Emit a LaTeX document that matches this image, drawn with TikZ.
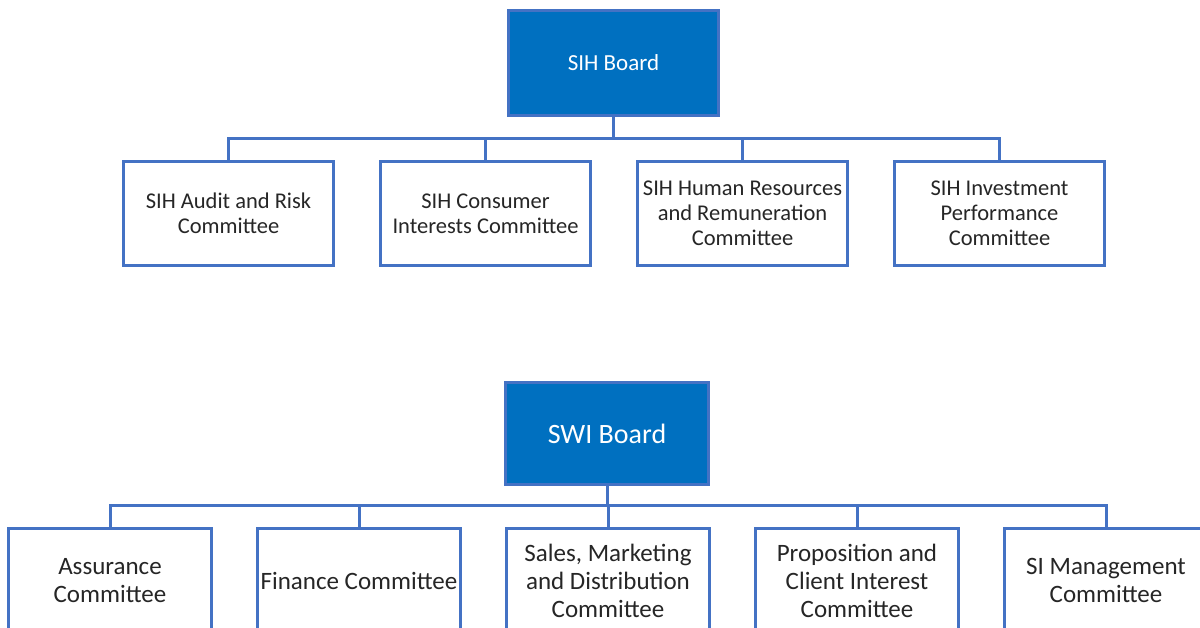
\documentclass[tikz,border=0pt]{standalone}
\usepackage{fontspec}
\setmainfont{Carlito}
\usetikzlibrary{calc}
\definecolor{boardblue}{HTML}{0070C0}
\definecolor{edgeblue}{HTML}{4472C4}
\definecolor{inkgrey}{HTML}{262626}

\begin{document}
\begin{tikzpicture}[x=1pt, y=-1pt, outer sep=0pt, line width=3pt,
  board/.style={draw=edgeblue, fill=boardblue, text=white, align=center},
  cttee/.style={draw=edgeblue, fill=white, text=inkgrey, align=center,
    minimum width=210pt, minimum height=104pt, inner sep=2pt,
    font=\fontsize{22.5}{25}\selectfont},
  wide/.style={cttee, minimum width=203pt, font=\fontsize{25}{28}\selectfont},
  link/.style={draw=edgeblue, line width=3pt}]

\clip (0,0) rectangle (1200,628);
\fill[white] (0,0) rectangle (1200,628);

% holding company board and its committees
\node[board, minimum width=210pt, minimum height=105pt,
  font=\fontsize{23}{26}\selectfont] at (613.5, 63) (sih) {SIH Board};
\coordinate (bus1) at (613.5, 139);

\node[cttee] at (228.5, 213.5) (sih1) {SIH Audit and Risk\\Committee};
\node[cttee] at (485.5, 213.5) (sih2) {SIH Consumer\\Interests Committee};
\node[cttee] at (742.5, 213.5) (sih3) {SIH Human Resources\\and Remuneration\\Committee};
\node[cttee] at (999.5, 213.5) (sih4) {SIH Investment\\Performance\\Committee};

\draw[link] (sih.south) -- (bus1);
\foreach \c in {sih1,sih2,sih3,sih4}
  \draw[link] (\c.north) |- (bus1);

% SWI board and its committees
\node[board, minimum width=203pt, minimum height=102pt,
  font=\fontsize{28}{31}\selectfont] at (607, 433.5) (swi) {SWI Board};
\coordinate (bus2) at (607, 505);

\node[wide] at (110, 580.5) (swi1) {Assurance\\Committee};
\node[wide] at (359, 580.5) (swi2) {Finance Committee};
\node[wide] at (608, 580.5) (swi3) {Sales, Marketing\\and Distribution\\Committee};
\node[wide] at (857, 580.5) (swi4) {Proposition and\\Client Interest\\Committee};
\node[wide] at (1106, 580.5) (swi5) {SI Management\\Committee};

\draw[link] (swi.south) -- (bus2);
\foreach \c in {swi1,swi2,swi3,swi4,swi5}
  \draw[link] (\c.north) |- (bus2);

\end{tikzpicture}
\end{document}
